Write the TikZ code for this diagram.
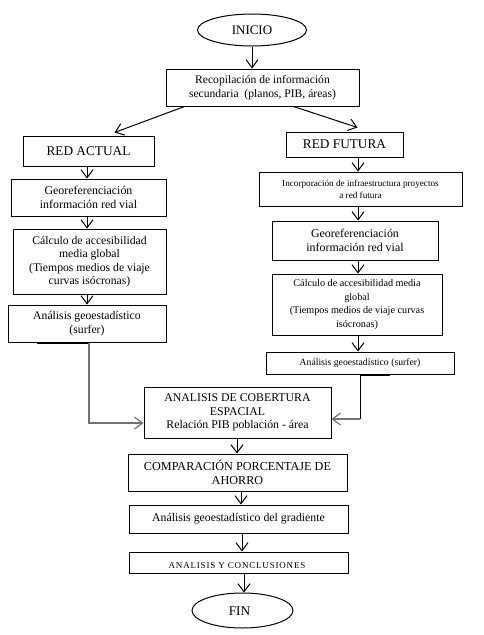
\documentclass[tikz,border=0pt]{standalone}
\usepackage{fontspec}
\setmainfont{Liberation Serif}
\usetikzlibrary{arrows.meta,shapes.geometric}
\begin{document}
\begin{tikzpicture}[x=1pt,y=-1pt,
  box/.style={draw,line width=1pt,rectangle,inner sep=0pt,align=center},
  oval/.style={draw,line width=1pt,ellipse,inner sep=0pt},
  arr/.style={line width=1pt,-{Straight Barb[length=8pt,width=12pt]}},
  fs/.style={font=\fontsize{#1}{13.5}\selectfont}
]
\useasboundingbox[fill=white] (0,0) rectangle (484,635);
% columns
\coordinate (cl) at (87,0);
\coordinate (cr) at (358,0);
\coordinate (lx) at (89,0);
\coordinate (rx) at (360,0);

\node[oval,minimum width=109pt,minimum height=32pt,fs=13] (inicio) at (252,30) {INICIO};
\node[box,minimum width=193pt,minimum height=37pt,fs=11.6] (recop) at (262.5,87.5)
  {Recopilación de información\\secundaria \ (planos, PIB, áreas)};
\node[box,minimum width=131pt,minimum height=30pt,fs=13.3] (ractual) at (88.5,151) {RED ACTUAL};
\node[box,minimum width=117pt,minimum height=25pt,fs=13.3] (rfutura) at (344.5,144.5) {RED FUTURA};

\node[box,minimum width=155pt,minimum height=37pt,fs=11.9] (geoL) at (88.5,197.5)
  {Georeferenciación\\información red vial};
\node[box,minimum width=153pt,minimum height=65pt,fs=11.7] (calcL) at (89.5,261.5)
  {Cálculo de accesibilidad\\media global\\(Tiempos medios de viaje\\curvas isócronas)};
\node[box,minimum width=158pt,minimum height=37pt,fs=11.7] (anaL) at (87,323.5)
  {Análisis geoestadístico\\(surfer)};

\node[box,minimum width=203pt,minimum height=34pt,font=\fontsize{9.2}{12}\selectfont] (incorp) at (360.5,189)
  {Incorporación de infraestructura proyectos\\a red futura};
\node[box,minimum width=166pt,minimum height=39pt,fs=11.9] (geoR) at (355,240.5)
  {Georeferenciación\\información red vial};
\node[box,minimum width=170pt,minimum height=61pt,font=\fontsize{10.2}{13.5}\selectfont] (calcR) at (357,304.5)
  {Cálculo de accesibilidad media\\global\\(Tiempos medios de viaje curvas\\isócronas)};
\node[box,minimum width=188pt,minimum height=22pt,font=\fontsize{9.7}{12}\selectfont] (anaR) at (360,363)
  {Análisis geoestadístico (surfer)};

\node[box,minimum width=187pt,minimum height=51pt,font=\fontsize{11.8}{13.5}\selectfont] (cober) at (237.5,412.5)
  {ANALISIS DE COBERTURA\\ESPACIAL\\Relación PIB población - área};
\node[box,minimum width=219pt,minimum height=37pt,fs=12.2] (comp) at (237.5,472.5)
  {COMPARACIÓN PORCENTAJE DE\\AHORRO};
\node[box,minimum width=219pt,minimum height=28pt,fs=11.8] (grad) at (238.5,519)
  {Análisis geoestadístico del gradiente};
\node[box,minimum width=219pt,minimum height=21pt] (concl) at (238.5,562.5) {};
\begin{scope}
  \clip (129,552) rectangle (348,567.2);
  \node[anchor=base,inner sep=0pt,font=\fontsize{9}{10}\selectfont\addfontfeature{LetterSpace=9}] (concltext) at (237,568.3) {ANALISIS Y CONCLUSIONES};
\end{scope}
\node[oval,minimum width=101pt,minimum height=35pt] (fin) at (242.5,610.5) {};
\node[fs=13.3,inner sep=0pt] (fintext) at (239.5,611) {FIN};

% arrows
\draw[arr] (inicio.south) -- (inicio.south |- recop.north);
\draw[arr] ([xshift=19pt]recop.south west) -- ([xshift=92pt,yshift=3pt]ractual.north west);
\draw[arr] ([xshift=128pt]recop.south west) -- ([xshift=72pt,yshift=4pt]rfutura.north west);
\draw[arr] (ractual.south -| cl) -- (geoL.north -| cl);
\draw[arr] (geoL.south -| cl) -- (calcL.north -| cl);
\draw[arr] (calcL.south -| cl) -- (anaL.north -| cl);
\draw[arr] (rfutura.south -| cr) -- (incorp.north -| cr);
\draw[arr] (incorp.south -| cr) -- (geoR.north -| cr);
\draw[arr] (geoR.south -| cr) -- (calcR.north -| cr);
\draw[arr] (calcR.south -| cr) -- (anaR.north -| cr);

% thick artifacts under boxes
\draw[line width=2pt] ([xshift=-52pt]anaL.south -| lx) -- (anaL.south -| lx);
\draw[line width=2pt] (anaR.south -| rx) -- ([xshift=30pt]anaR.south -| rx);

% merge connectors
\coordinate (lbend) at ([yshift=-10.5pt]cober.west -| lx);
\draw[arr,line width=1.2pt,black!55] (anaL.south -| lx) -- (lbend) -- ([yshift=-10.5pt]cober.west);
\coordinate (rbend) at ([yshift=-6.5pt]cober.east -| rx);
\draw[line width=1pt] (anaR.south -| rx) -- (rbend);
\draw[arr,line width=1.2pt,black!55] (rbend) -- ([yshift=-6.5pt]cober.east);

\draw[arr] ([xshift=-0.5pt]cober.south) -- ([xshift=-0.5pt]cober.south |- comp.north);
\draw[arr] ([xshift=3.5pt]comp.south) -- ([xshift=3.5pt]comp.south |- grad.north);
\draw[arr] ([xshift=3.5pt]grad.south) -- ([xshift=3.5pt]grad.south |- concl.north);
\draw[arr] ([xshift=5.5pt]concl.south) -- ([xshift=5.5pt]concl.south |- fin.north);
\end{tikzpicture}
\end{document}
